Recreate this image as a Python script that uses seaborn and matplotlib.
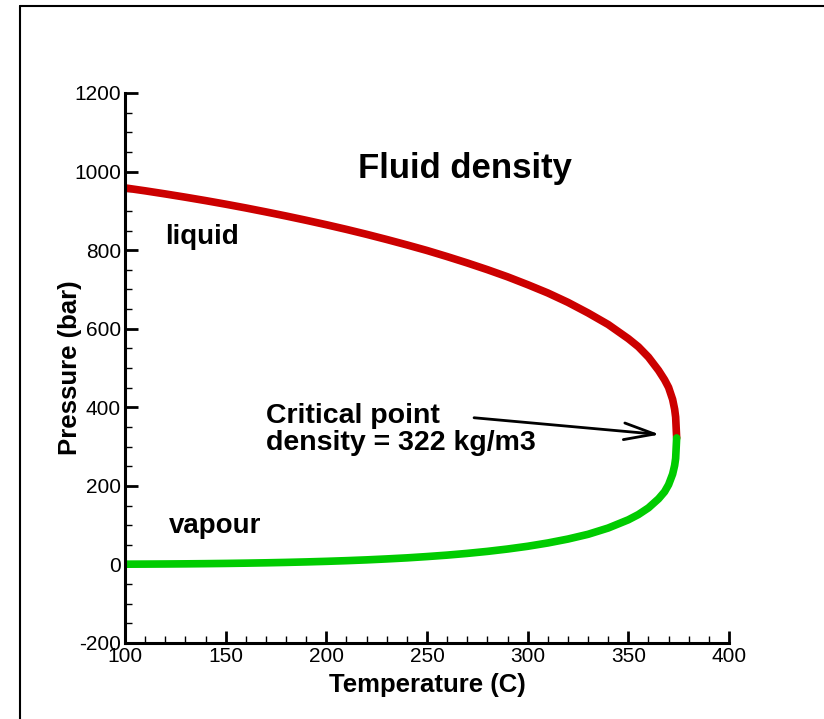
import numpy as np
import pandas as pd
import matplotlib
matplotlib.use("Agg")
import matplotlib.pyplot as plt
from matplotlib.lines import Line2D
import seaborn as sns

# Saturation temperature (C)
temperature = [100, 110, 120, 130, 140, 150, 160, 170, 180, 190, 200, 210, 220, 230,
               240, 250, 260, 270, 280, 290, 300, 310, 320, 330, 340, 350, 355, 360,
               365, 368, 370, 372, 373, 373.5, 374]
# Liquid density (kg/m3)
liquid = [958.4, 951.0, 943.1, 934.8, 926.1, 917.0, 907.4, 897.3, 886.9, 876.0, 864.7,
          852.8, 840.3, 827.1, 813.4, 799.1, 783.6, 767.4, 750.3, 732.1, 712.1, 691.0,
          667.1, 640.1, 610.7, 574.7, 554.0, 527.6, 494.0, 470.0, 450.5, 420.0, 395.0,
          375.0, 322.0]
# Vapour density (kg/m3)
vapour = [0.6, 0.83, 1.12, 1.50, 1.97, 2.55, 3.26, 4.12, 5.16, 6.40, 7.87, 9.59, 11.6,
          14.0, 16.7, 20.0, 23.7, 28.1, 33.2, 39.2, 46.2, 54.6, 64.6, 76.7, 92.7, 113.6,
          127.0, 144.0, 167.0, 185.0, 203.0, 230.0, 252.0, 270.0, 322.0]

x_ticks = [100, 150, 200, 250, 300, 350, 400]
y_ticks = [-200, 0, 200, 400, 600, 800, 1000, 1200]

df = pd.DataFrame({"T": temperature, "liquid": liquid, "vapour": vapour})

sns.set_theme(style="white")
plt.rcParams["font.family"] = ["Liberation Sans", "DejaVu Sans"]
plt.rcParams["text.color"] = "black"
plt.rcParams["axes.labelcolor"] = "black"
plt.rcParams["axes.unicode_minus"] = False

fig = plt.figure(figsize=(8.24, 7.19), dpi=100)
ax = fig.add_axes([125/824, 1-643/719, (729-125)/824, (643-93)/719])

sns.lineplot(data=df, x="T", y="liquid", ax=ax, color="#cc0000", lw=5.5,
             sort=False, estimator=None)
sns.lineplot(data=df, x="T", y="vapour", ax=ax, color="#00cc00", lw=5.5,
             sort=False, estimator=None)

ax.set_xlim(100, 400)
ax.set_ylim(-200, 1200)
ax.set_xticks(x_ticks)
ax.set_yticks(y_ticks)
ax.set_xticks(np.arange(100, 401, 10), minor=True)
ax.set_yticks(np.arange(-200, 1201, 50), minor=True)
ax.tick_params(axis="both", which="major", direction="in", length=9, width=2,
               labelsize=15, color="black", labelcolor="black", pad=3)
ax.tick_params(axis="both", which="minor", direction="in", length=5, width=1,
               color="black")
ax.tick_params(axis="x", which="both", bottom=True)
ax.tick_params(axis="y", which="both", left=True)

for s in ["top", "right"]:
    ax.spines[s].set_visible(False)
for s in ["left", "bottom"]:
    ax.spines[s].set_color("black")
    ax.spines[s].set_linewidth(2.2)

ax.set_xlabel("Temperature (C)", fontsize=18.5, fontweight="bold", labelpad=5)
ax.set_ylabel("Pressure (bar)", fontsize=18.5, fontweight="bold", labelpad=-6)

ax.text(269, 1008, "Fluid density", fontsize=25, fontweight="bold",
        ha="center", va="center")
ax.text(120, 834, "liquid", fontsize=20, fontweight="bold", ha="left", va="center")
ax.text(122, 97, "vapour", fontsize=20, fontweight="bold", ha="left", va="center")
ax.text(170, 343, "Critical point\ndensity = 322 kg/m3", fontsize=20.5,
        fontweight="bold", ha="left", va="center", linespacing=1.05)
ax.annotate("", xy=(367, 330), xytext=(272, 374),
            arrowprops=dict(arrowstyle="->,head_length=2.2,head_width=0.6",
                            mutation_scale=10, color="black", lw=2))

fig.add_artist(Line2D([19.5/824, 19.5/824], [0, 1-6/719], color="black",
                      lw=1.5, transform=fig.transFigure))
fig.add_artist(Line2D([19.5/824, 1], [1-6/719, 1-6/719], color="black",
                      lw=1.5, transform=fig.transFigure))

fig.savefig("out.png", dpi=100)
